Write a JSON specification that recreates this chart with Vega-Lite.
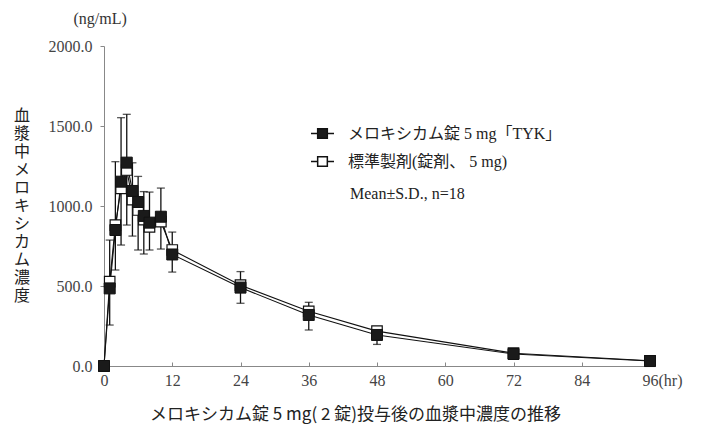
{
  "$schema": "https://vega.github.io/schema/vega-lite/v6.json",
  "width": 546,
  "height": 320,
  "autosize": "none",
  "padding": {"left": 104, "top": 46, "right": 58, "bottom": 60},
  "background": "white",
  "config": {"view": {"stroke": null}, "font": "Liberation Serif"},
  "title": {"text": ["血", "漿", "中", "メ", "ロ", "キ", "シ", "カ", "ム", "濃", "度"], "orient": "left", "angle": 0, "anchor": "middle", "align": "center", "baseline": "middle", "frame": "group", "offset": 10, "dy": -90, "lineHeight": 18, "font": "Liberation Serif, Noto Sans CJK JP", "fontSize": 16, "fontWeight": "normal", "color": "#222"},
  "resolve": {"axis": {"x": "independent"}},
  "datasets": {
    "a": [
      {"t": 0, "s": "メロキシカム錠 5 mg「TYK」", "m": 0},
      {"t": 1, "s": "メロキシカム錠 5 mg「TYK」", "m": 485, "lo": 256, "hi": 787},
      {"t": 2, "s": "メロキシカム錠 5 mg「TYK」", "m": 850, "lo": 600, "hi": 1277},
      {"t": 3, "s": "メロキシカム錠 5 mg「TYK」", "m": 1152, "lo": 756, "hi": 1552},
      {"t": 4, "s": "メロキシカム錠 5 mg「TYK」", "m": 1271, "lo": 881, "hi": 1573},
      {"t": 5, "s": "メロキシカム錠 5 mg「TYK」", "m": 1094, "lo": 812, "hi": 1270},
      {"t": 6, "s": "メロキシカム錠 5 mg「TYK」", "m": 1025, "lo": 725, "hi": 1185},
      {"t": 7, "s": "メロキシカム錠 5 mg「TYK」", "m": 938, "lo": 700, "hi": 1090},
      {"t": 8, "s": "メロキシカム錠 5 mg「TYK」", "m": 896, "lo": 725, "hi": 1087},
      {"t": 10, "s": "メロキシカム錠 5 mg「TYK」", "m": 933, "lo": 731, "hi": 1112},
      {"t": 12, "s": "メロキシカム錠 5 mg「TYK」", "m": 697, "lo": 587, "hi": 837},
      {"t": 24, "s": "メロキシカム錠 5 mg「TYK」", "m": 490, "lo": 392, "hi": 590},
      {"t": 36, "s": "メロキシカム錠 5 mg「TYK」", "m": 319, "lo": 225, "hi": 398},
      {"t": 48, "s": "メロキシカム錠 5 mg「TYK」", "m": 194, "lo": 135, "hi": 242},
      {"t": 72, "s": "メロキシカム錠 5 mg「TYK」", "m": 75},
      {"t": 96, "s": "メロキシカム錠 5 mg「TYK」", "m": 31}
    ],
    "b": [
      {"t": 0, "s": "標準製剤(錠剤、 5 mg)", "m": 0},
      {"t": 1, "s": "標準製剤(錠剤、 5 mg)", "m": 527},
      {"t": 2, "s": "標準製剤(錠剤、 5 mg)", "m": 880},
      {"t": 3, "s": "標準製剤(錠剤、 5 mg)", "m": 1110},
      {"t": 4, "s": "標準製剤(錠剤、 5 mg)", "m": 1225},
      {"t": 5, "s": "標準製剤(錠剤、 5 mg)", "m": 1040},
      {"t": 6, "s": "標準製剤(錠剤、 5 mg)", "m": 975},
      {"t": 7, "s": "標準製剤(錠剤、 5 mg)", "m": 915},
      {"t": 8, "s": "標準製剤(錠剤、 5 mg)", "m": 870},
      {"t": 10, "s": "標準製剤(錠剤、 5 mg)", "m": 902},
      {"t": 12, "s": "標準製剤(錠剤、 5 mg)", "m": 725},
      {"t": 24, "s": "標準製剤(錠剤、 5 mg)", "m": 505},
      {"t": 36, "s": "標準製剤(錠剤、 5 mg)", "m": 342},
      {"t": 48, "s": "標準製剤(錠剤、 5 mg)", "m": 218},
      {"t": 72, "s": "標準製剤(錠剤、 5 mg)", "m": 80},
      {"t": 96, "s": "標準製剤(錠剤、 5 mg)", "m": 33}
    ]
  },
  "layer": [
    {
      "data": {"name": "b"},
      "mark": {"type": "line", "color": "#111", "strokeWidth": 1.1},
      "encoding": {
        "x": {"field": "t", "type": "quantitative",
          "scale": {"domain": [0, 96], "nice": false},
          "axis": {
            "values": [0, 12, 24, 36, 48, 60, 72, 84, 96],
            "labelExpr": "datum.value == 96 ? '96(hr)' : datum.label",
            "labelAlign": {"condition": {"test": "datum.value == 96", "value": "left"}, "value": "center"},
            "labelOffset": {"condition": {"test": "datum.value == 96", "value": -8}, "value": 0},
            "labelFont": "Liberation Serif", "labelFontSize": 16, "labelColor": "#444",
            "labelPadding": 10, "tickSize": -4, "tickColor": "#888", "domainColor": "#888",
            "grid": false, "labelFlush": false, "labelOverlap": false,
            "title": "メロキシカム錠 5 mg( 2 錠)投与後の血漿中濃度の推移",
            "titleFont": "Noto Sans CJK JP", "titleFontSize": 17, "titleFontWeight": "normal", "titleColor": "#222",
            "titleAnchor": "start", "titleAlign": "center", "titleX": 251, "titleY": 48, "titleBaseline": "middle"
          }
        },
        "y": {"field": "m", "type": "quantitative", "title": null, "scale": {"domain": [0, 2000], "nice": false},
          "axis": {
            "values": [0, 500, 1000, 1500, 2000], "format": ".1f",
            "labelFont": "Liberation Serif", "labelFontSize": 16, "labelColor": "#444",
            "labelPadding": 8, "tickSize": 4, "tickColor": "#888", "domainColor": "#888", "grid": false
          }
        },
        "detail": {"field": "s"}
      }
    },
    {
      "data": {"name": "a"},
      "mark": {"type": "line", "color": "#111", "strokeWidth": 1.1},
      "encoding": {
        "x": {"field": "t", "type": "quantitative",
          "axis": {
            "orient": "top", "domain": false, "ticks": false, "labels": false, "grid": false,
            "title": "(ng/mL)",
            "titleFont": "Liberation Serif", "titleFontSize": 16, "titleFontWeight": "normal", "titleColor": "#333",
            "titleAnchor": "start", "titleAlign": "left", "titleX": -31, "titleY": -28, "titleBaseline": "middle"
          }
        },
        "y": {"field": "m", "type": "quantitative", "title": null},
        "detail": {"field": "s"}
      }
    },
    {
      "data": {"name": "a"},
      "transform": [{"filter": "isValid(datum.lo)"}],
      "mark": {"type": "errorbar", "color": "#111", "thickness": 1.3, "ticks": {"size": 8, "color": "#111"}},
      "encoding": {
        "x": {"field": "t", "type": "quantitative", "axis": null},
        "y": {"field": "hi", "type": "quantitative", "title": null},
        "y2": {"field": "lo"}
      }
    },
    {
      "data": {"name": "b"},
      "mark": {"type": "point", "shape": "square", "filled": true, "size": 110, "stroke": "#111", "strokeWidth": 1.2, "opacity": 1},
      "encoding": {
        "x": {"field": "t", "type": "quantitative", "axis": null},
        "y": {"field": "m", "type": "quantitative", "title": null},
        "fill": {"field": "s", "type": "nominal",
          "scale": {"domain": ["メロキシカム錠 5 mg「TYK」", "標準製剤(錠剤、 5 mg)"], "range": ["#1a1a1a", "#ffffff"]},
          "legend": {
            "orient": "none", "legendX": 206, "legendY": 75,
            "title": "\u200b\u3000\u3000\u2002Mean±S.D., n=18", "titleOrient": "bottom", "titlePadding": 16,
            "titleFont": "Liberation Serif, Noto Sans CJK JP", "titleFontSize": 16, "titleFontWeight": "normal", "titleColor": "#222",
            "labelFont": "Liberation Serif, Noto Sans CJK JP", "labelFontSize": 16, "labelColor": "#222", "labelOffset": 13,
            "symbolType": "M-1,0H-0.42M0.42,0H1M-0.42,-0.42H0.42V0.42H-0.42Z",
            "symbolSize": 529, "symbolStrokeColor": "#111", "symbolStrokeWidth": 1.5, "symbolOpacity": 1,
            "rowPadding": 7, "labelLimit": 400
          }
        }
      }
    },
    {
      "data": {"name": "a"},
      "mark": {"type": "point", "shape": "square", "filled": true, "size": 121, "stroke": "#111", "strokeWidth": 1, "opacity": 1},
      "encoding": {
        "x": {"field": "t", "type": "quantitative", "axis": null},
        "y": {"field": "m", "type": "quantitative", "title": null},
        "fill": {"field": "s", "type": "nominal"}
      }
    }
  ]
}
